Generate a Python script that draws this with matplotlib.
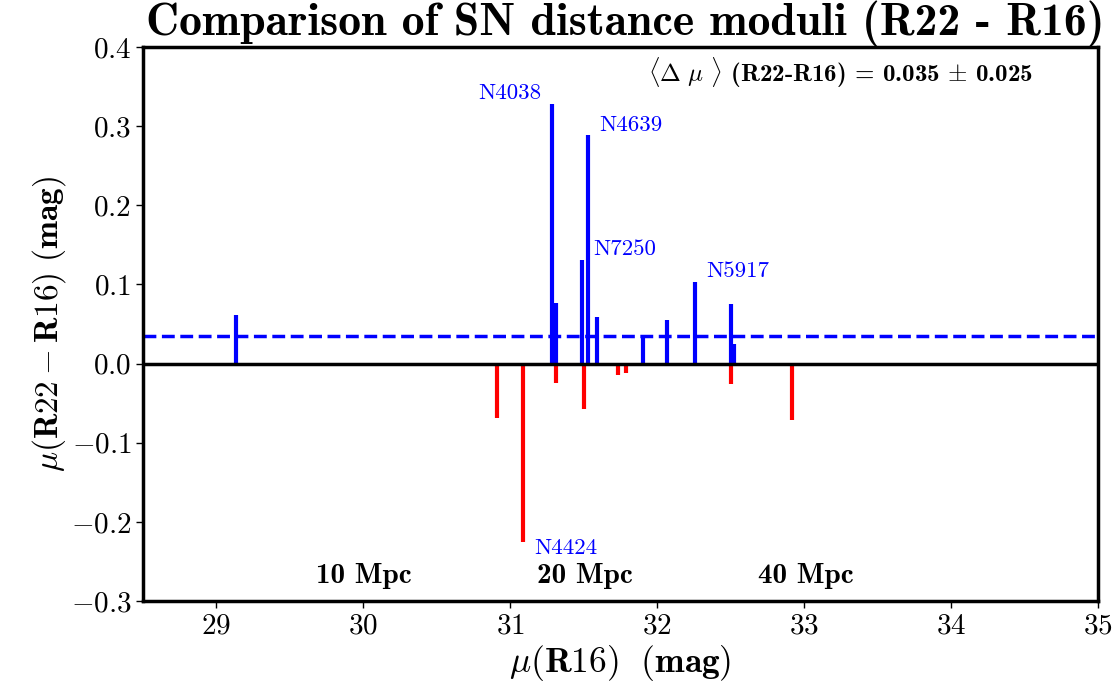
import numpy as np
import matplotlib
matplotlib.use("Agg")
import matplotlib.pyplot as plt

# ---- data ----
mu_r16 = [29.134, 30.91, 31.085, 31.284, 31.31, 31.31, 31.49, 31.50, 31.53,
          31.59, 31.73, 31.79, 31.90, 32.07, 32.26, 32.50, 32.50, 32.52, 32.92]
delta_mu = [0.061, -0.069, -0.225, 0.328, 0.076, -0.024, 0.131, -0.057, 0.289,
            0.059, -0.015, -0.012, 0.036, 0.055, 0.103, 0.0755, -0.026, 0.025, -0.071]
mean_delta = 0.035
err_delta = 0.025
label_names = ["N4038", "N4639", "N7250", "N5917", "N4424"]
label_mu = [31.284, 31.53, 31.49, 32.26, 31.085]
label_delta = [0.328, 0.289, 0.131, 0.103, -0.225]
dist_mpc = [10, 20, 40]
xticks = [29, 30, 31, 32, 33, 34, 35]
yticks = [-0.3, -0.2, -0.1, 0.0, 0.1, 0.2, 0.3, 0.4]

plt.rcParams['font.family'] = ['cmr10']
plt.rcParams['mathtext.fontset'] = 'cm'
plt.rcParams['axes.formatter.use_mathtext'] = True

fig = plt.figure(figsize=(11.19, 6.98), dpi=100)
ax = fig.add_axes([0.1278, 0.139, 0.8534, 0.7937])

mu = np.array(mu_r16)
d = np.array(delta_mu)
pos = d >= 0
ax.vlines(mu[pos], 0, d[pos], color='blue', lw=3, zorder=3)
ax.vlines(mu[~pos], 0, d[~pos], color='red', lw=3, zorder=3)
ax.axhline(0, color='black', lw=2.5, zorder=4)
ax.axhline(mean_delta, color='blue', lw=2.5, ls='--', zorder=2)

offsets = {"N4038": (-8, 1, 'right', 'bottom'),
           "N4639": (8, 7, 'left', 'center'),
           "N7250": (8, 8, 'left', 'center'),
           "N5917": (8, 8, 'left', 'center'),
           "N4424": (8, -5, 'left', 'center')}
for name, x, y in zip(label_names, label_mu, label_delta):
    dx, dy, ha, va = offsets[name]
    ax.annotate(name, (x, y), xytext=(dx, dy), textcoords='offset points',
                ha=ha, va=va, color='blue', fontsize=16.5)

for dm in dist_mpc:
    ax.text(5 * np.log10(dm) + 25, -0.268, f"{dm} Mpc", ha='center', va='center',
            fontsize=21, family='cmb10')

ax.text(34.56, 0.367,
        r'$\langle\mathbf{\Delta}\ \mu\ \rangle$ (R22-R16) = ' + f'{mean_delta:.3f}' +
        r' $\pm$ ' + f'{err_delta:.3f}',
        ha='right', va='center', fontsize=18, family='cmb10')

ax.set_xlim(28.5, 35)
ax.set_ylim(-0.3, 0.4)
ax.set_xticks(xticks)
ax.set_xticklabels([f"${v}$" for v in xticks])
ax.set_yticks(yticks)
ax.set_yticklabels([f"${v:.1f}$" for v in yticks])
ax.tick_params(labelsize=21, width=1, length=5, direction='out')
for s in ax.spines.values():
    s.set_linewidth(2.5)

ax.set_xlabel(r'$\mu(\mathbf{R16})\ \ \mathbf{(mag)}$', fontsize=25.5, labelpad=3)
ax.set_ylabel(r'$\mu(\mathbf{R22} - \mathbf{R16})\ \mathbf{(mag)}$', fontsize=24, labelpad=2)
ax.set_title('Comparison of SN distance moduli (R22 - R16)', fontsize=33,
             family='cmb10', pad=2, x=0.505)

fig.savefig('out.png', dpi=100)
